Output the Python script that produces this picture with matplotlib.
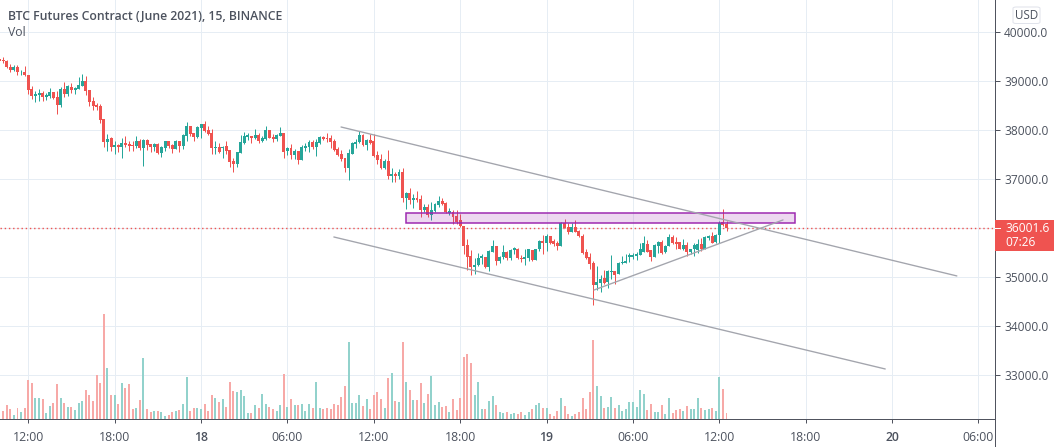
import matplotlib
matplotlib.use("Agg")
import matplotlib.pyplot as plt
from matplotlib.patches import Rectangle, FancyBboxPatch
import numpy as np

plt.rcParams['font.family'] = ['Open Sans', 'DejaVu Sans']

opens = [39460,39445,39425,39300,39240,39300,39185,39200,
39135,38850,38710,38725,38765,38685,38705,38785,38685,38520,
38850,38745,38890,38830,38850,38910,39015,38830,38600,38520,
38500,38235,37760,37840,37655,37700,37655,37740,37720,37700,
37680,37780,37635,37800,37720,37655,37720,37535,37635,37780,
37700,37615,37780,37680,37885,38090,37945,37865,38045,38130,
38005,37945,37635,37655,37635,37680,37595,37370,37310,37535,
37740,37865,37885,37845,37905,37780,37825,38005,37865,37825,
37885,37945,37580,37640,37495,37580,37395,37640,37660,37760,
37660,37740,37865,37845,37845,37780,37620,37515,37435,37230,
37515,37720,37760,37905,37700,37800,37780,37495,37415,37230,
37375,37065,37110,37065,37150,36615,36720,36575,36615,36595,
36370,36435,36270,36350,36475,36555,36515,36310,36330,36250,
36170,36045,35655,35430,35210,35250,35390,35410,35210,35515,
35640,35335,35415,35515,35395,35560,35580,35395,35375,35395,
35560,35355,35580,35740,35700,35845,35740,35700,35640,36100,
36020,35925,36020,35945,35845,35515,35415,35295,34845,34885,
34985,34905,35110,35130,35070,35290,35295,35415,35420,35435,
35455,35515,35680,35560,35415,35640,35720,35515,35640,35825,
35720,35720,35580,35660,35515,35580,35560,35680,35580,35805,
35845,35720,35865,36120,36090]

highs = [39500,39500,39445,39360,39335,39340,39240,39320,
39135,38910,38795,38850,38810,38755,38870,38785,38810,38890,
38995,38930,38970,38890,39095,39155,39115,38830,38685,38560,
38540,38235,37925,37865,37780,37720,37840,37885,37780,37780,
37885,37820,37820,37820,37720,37740,37740,37680,37780,37780,
37720,37800,37780,37925,38170,38090,37945,38090,38130,38190,
38090,38025,37780,37740,37680,37780,37595,37430,37555,37905,
37965,37945,37885,38025,37945,37885,38090,38005,37925,37925,
38070,37945,37660,37720,37620,37580,37700,37740,37800,37800,
37825,37885,37885,37945,37905,37825,37660,37600,37435,37620,
37760,37825,37985,37925,37825,37925,37925,37580,37515,37415,
37600,37230,37150,37210,37230,36740,36820,36700,36760,36680,
36495,36495,36535,36515,36660,36615,36535,36415,36370,36370,
36290,36045,35780,35555,35390,35495,35475,35410,35555,35760,
35640,35435,35660,35540,35580,35620,35600,35455,35580,35580,
35560,35580,35760,35865,35885,35845,35780,35740,36130,36190,
36100,36100,36170,35965,35885,35580,35495,35335,35230,35050,
35150,35150,35455,35130,35315,35430,35475,35495,35495,35515,
35700,35845,35760,35560,35680,35740,35760,35660,35885,35865,
35825,35720,35780,35720,35580,35700,35780,35805,35845,35865,
35925,35885,36150,36395,36150]

lows = [39410,39375,39275,39185,39220,39125,39125,39115,
38745,38645,38570,38600,38590,38610,38665,38645,38335,38480,
38685,38705,38765,38745,38850,38910,38725,38500,38415,38415,
38150,37655,37575,37575,37515,37555,37430,37655,37575,37575,
37635,37595,37265,37595,37555,37575,37515,37450,37575,37635,
37535,37615,37555,37615,37780,37885,37780,37840,37840,37965,
37905,37515,37515,37535,37430,37515,37245,37145,37245,37535,
37720,37800,37740,37825,37740,37760,37800,37845,37760,37780,
37885,37435,37495,37415,37415,37310,37395,37580,37555,37620,
37475,37720,37800,37760,37640,37580,37475,37375,37150,36985,
37515,37640,37740,37680,37600,37720,37455,37310,37210,37210,
37005,36945,36945,37005,36535,36395,36495,36415,36535,36230,
36330,36230,36170,36330,36435,36475,36310,36270,36085,36085,
36025,35475,35145,35045,35065,35230,35270,35185,35125,35515,
35250,35295,35375,35355,35355,35475,35375,35315,35250,35335,
35335,35355,35540,35475,35540,35680,35640,35560,35640,36000,
35885,35925,35925,35825,35475,35375,35170,34435,34740,34700,
34865,34785,34965,34865,35070,35270,35295,35315,35375,35355,
35455,35515,35515,35335,35415,35495,35475,35495,35640,35680,
35580,35580,35560,35435,35475,35435,35495,35540,35580,35760,
35700,35700,35700,36050,35945]

closes = [39425,39405,39285,39240,39300,39185,39200,39135,
38830,38710,38745,38765,38685,38725,38785,38665,38520,38850,
38745,38910,38830,38870,38930,39015,38810,38580,38500,38480,
38210,37760,37820,37655,37700,37655,37740,37700,37680,37685,
37780,37635,37800,37700,37655,37720,37535,37655,37780,37680,
37615,37780,37680,37905,38090,37925,37865,38070,38130,37985,
37925,37635,37655,37555,37655,37575,37350,37310,37555,37760,
37880,37905,37845,37905,37780,37845,38005,37845,37825,37905,
37945,37555,37640,37495,37580,37395,37660,37680,37760,37660,
37760,37865,37825,37825,37760,37600,37495,37415,37230,37535,
37740,37760,37905,37700,37800,37740,37475,37395,37230,37375,
37065,37110,37065,37150,36615,36720,36575,36615,36575,36370,
36435,36270,36370,36495,36555,36495,36330,36350,36230,36125,
36045,35635,35410,35210,35250,35390,35430,35210,35535,35640,
35335,35415,35515,35395,35560,35600,35395,35375,35415,35580,
35355,35580,35740,35700,35845,35700,35680,35640,36100,36000,
35925,36020,35925,35845,35495,35395,35270,34845,34905,34965,
34885,35130,35130,35050,35295,35315,35325,35455,35455,35475,
35580,35700,35515,35415,35660,35720,35495,35640,35825,35700,
35680,35580,35660,35515,35580,35660,35680,35580,35825,35845,
35700,35865,36110,36068,36001.6]

volumes = [25,25,43,31,13,34,22,34,
118,109,64,64,61,19,40,49,106,64,
49,37,37,28,49,55,88,73,55,133,
109,316,154,73,73,46,109,94,106,31,
34,58,184,31,22,25,25,22,10,13,
22,25,28,46,127,25,34,34,31,46,
25,73,64,52,61,37,112,85,82,88,
70,19,19,43,34,76,46,37,31,25,
43,136,37,61,43,43,46,25,46,34,
112,34,31,34,31,46,43,67,100,232,
49,49,73,40,61,31,73,82,61,34,
124,139,55,52,232,112,88,58,58,109,
49,76,130,43,52,37,40,22,61,28,
64,187,196,169,73,112,31,31,55,70,
43,22,19,22,16,19,16,22,13,22,
31,43,49,34,34,16,10,25,64,40,
16,10,16,22,64,31,82,238,100,70,
34,37,67,34,43,25,31,52,52,37,
88,76,28,46,22,22,43,16,64,19,
28,31,25,40,31,31,64,34,28,31,
34,25,127,91,19]

first_bar = -8
x_tick_bars = [0, 24, 48, 72, 96, 120, 144, 168, 192, 216, 240, 264]
x_tick_labels = ['12:00', '18:00', '18', '06:00', '12:00', '18:00', '19', '06:00', '12:00', '18:00', '20', '06:00']
price_ticks = [33000, 34000, 35000, 36000, 37000, 38000, 39000, 40000]
last_price = 36001.6
channel_upper = ([86.9, 258.0], [38068, 35028])
channel_lower = ([84.9, 238.1], [35823, 33129])
support_line = ([157.2, 209.7], [34741, 36171])
zone_bars = (105.0, 213.0)
zone_prices = (36103, 36307)

UP, DOWN = '#26a69a', '#ef5350'
UP_V, DOWN_V = '#92d2cc', '#f7a9a7'
GRID = '#e6edf4'
AX = '#50535e'
TXT = '#4c525e'
PX = 0.72

W, H = 1059, 447
fig = plt.figure(figsize=(W / 100, H / 100), dpi=100, facecolor='white')
ax_r, ax_b = 995, 419.3
ax = fig.add_axes([0, (H - ax_b) / H, ax_r / W, ax_b / H])
vax = ax.twinx()
vax.set_ylim(0, 419.3 * 3)
ax.set_xlim(-7.86, 268.6)
ax.set_ylim(32102, 40660)
ax.set_facecolor('white')

idx = np.arange(first_bar, first_bar + len(opens))
o, h, l, c = map(np.array, (opens, highs, lows, closes))
up = c >= o
cols = np.where(up, UP, DOWN)
ax.vlines(idx, l, h, colors=cols, linewidth=PX, zorder=3)
ax.bar(idx, np.abs(c - o), bottom=np.minimum(o, c), width=0.82, color=cols, linewidth=0, zorder=4)

ax.set_xticks(x_tick_bars)
ax.set_xticklabels(x_tick_labels, fontsize=8.8, color=TXT)
ax.yaxis.tick_right()
ax.set_yticks(price_ticks)
ax.set_yticklabels([f'{p:.1f}' for p in price_ticks], fontsize=8.6, color=TXT)
ax.tick_params(axis='x', length=3.2, width=PX, color=AX, pad=5)
ax.tick_params(axis='y', length=3.6, width=PX, color=AX, pad=3)
for t, lab in zip(ax.get_xticklabels(), x_tick_labels):
    if len(lab) == 2:
        t.set_fontweight('semibold')
for s in ('top', 'left'):
    ax.spines[s].set_visible(False)
ax.spines['bottom'].set_color(AX)
ax.spines['bottom'].set_linewidth(PX)
ax.spines['right'].set_visible(False)
ax.grid(True, color=GRID, linewidth=PX, zorder=0)
ax.set_axisbelow(True)

fig.add_artist(plt.Line2D([ax_r / W] * 2, [0, 1], color=AX, linewidth=PX))

vax.bar(idx, volumes, width=0.55, color=np.where(up, UP_V, DOWN_V), linewidth=0, zorder=2)
vax.axis('off')

ax.axhline(last_price, color=DOWN, linewidth=PX * 1.4, linestyle=(0, (1, 2)), zorder=2)
ax.add_patch(Rectangle((zone_bars[0], zone_prices[0]), zone_bars[1] - zone_bars[0],
                       zone_prices[1] - zone_prices[0], facecolor='#9c27b0', alpha=0.18,
                       linewidth=0, zorder=5))
ax.add_patch(Rectangle((zone_bars[0], zone_prices[0]), zone_bars[1] - zone_bars[0],
                       zone_prices[1] - zone_prices[0], facecolor='none', edgecolor='#9c27b0',
                       linewidth=PX * 1.5, zorder=5))
for xs, ys in (channel_upper, channel_lower, support_line):
    ax.plot(xs, ys, color='#a3a5ad', linewidth=PX * 1.35, zorder=6, solid_capstyle='round')

# text in the header
fig.text(8 / W, 1 - 16 / H, 'BTC Futures Contract (June 2021), 15, BINANCE', fontsize=8.8,
         fontweight='semibold', color='#4c525e', ha='left', va='center')
fig.text(8 / W, 1 - 33 / H, 'Vol', fontsize=8.8, color=TXT, ha='left', va='center')

# last price tag
fig.add_artist(Rectangle((995 / W, 1 - 250.5 / H), 59 / W, 30.5 / H, transform=fig.transFigure,
                         facecolor=DOWN, linewidth=0, zorder=5))
fig.add_artist(plt.Line2D([995 / W, 1000 / W], [1 - 228.4 / H] * 2, color='white', linewidth=PX, zorder=6))
fig.text(1005 / W, 1 - 229 / H, f'{last_price:.1f}', fontsize=8.6, color='white',
         ha='left', va='center', zorder=7)
fig.text(1005 / W, 1 - 243 / H, '07:26', fontsize=8.6, color='white', ha='left', va='center', zorder=7)

# currency button
fig.add_artist(FancyBboxPatch((1013 / W, 1 - 23.5 / H), 27 / W, 16.5 / H, transform=fig.transFigure,
                              boxstyle='round,pad=0,rounding_size=0.003', facecolor='white',
                              edgecolor='#e0e3eb', linewidth=PX, zorder=5))
fig.text(1026.5 / W, 1 - 15.5 / H, 'USD', fontsize=8.4, color=TXT, ha='center', va='center', zorder=6)

fig.savefig('out.png', dpi=100, facecolor='white')
